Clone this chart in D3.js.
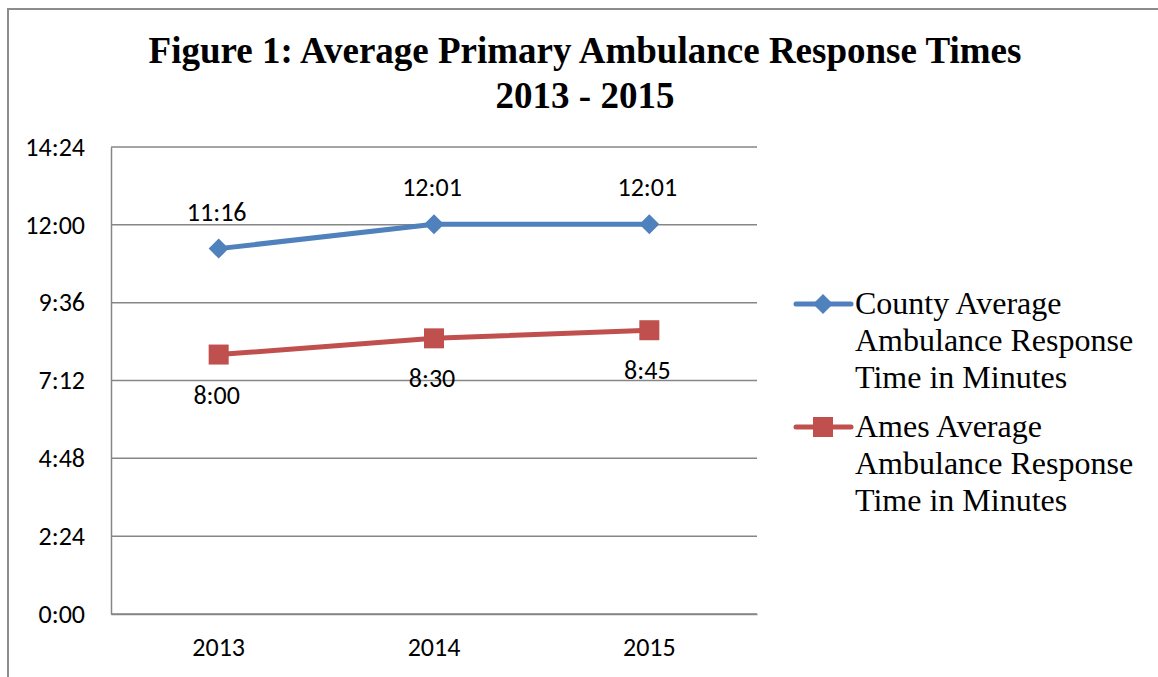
<!DOCTYPE html>
<html>
<head>
<meta charset="utf-8">
<script src="https://cdn.jsdelivr.net/npm/d3@7"></script>
<style>
  html, body { margin: 0; padding: 0; background: #fff; }
  svg { display: block; }
</style>
</head>
<body>
<svg id="chart" width="1158" height="677"></svg>
<script>
// Data: response times as "m:ss" strings, converted to seconds for plotting
const years = ["2013", "2014", "2015"];
const countyTimes = ["11:16", "12:01", "12:01"];
const amesTimes = ["8:00", "8:30", "8:45"];
const yTickLabels = ["0:00", "2:24", "4:48", "7:12", "9:36", "12:00", "14:24"];
const seriesNames = [
  ["County Average", "Ambulance Response", "Time in Minutes"],
  ["Ames Average", "Ambulance Response", "Time in Minutes"]
];

const toSec = s => { const [m, ss] = s.split(":").map(Number); return m * 60 + ss; };

const series = [
  { key: "county", times: countyTimes, color: "#4F81BD", marker: "diamond", labelPos: "above", name: seriesNames[0] },
  { key: "ames", times: amesTimes, color: "#C0504D", marker: "square", labelPos: "below", name: seriesNames[1] }
];

const svg = d3.select("#chart");
const W = 1158, H = 677;

// Outer chart frame (left and top edges)
svg.append("path")
  .attr("d", `M8,${H} L8,9 L${W},9`)
  .attr("fill", "none").attr("stroke", "#8c8c8c").attr("stroke-width", 2);

// Title
const title = svg.append("text")
  .attr("text-anchor", "middle")
  .attr("font-family", "'Liberation Serif', 'Times New Roman', serif")
  .attr("font-weight", "bold").attr("font-size", 37).attr("fill", "#000");
title.append("tspan").attr("x", 585).attr("y", 63).text("Figure 1: Average Primary Ambulance Response Times");
title.append("tspan").attr("x", 585).attr("y", 108).text("2013 - 2015");

// Plot area
const plot = { left: 111, right: 757, top: 147, bottom: 614 };
const x = d3.scaleBand().domain(years).range([plot.left, plot.right]);
const yMax = toSec(yTickLabels[yTickLabels.length - 1]);
const y = d3.scaleLinear().domain([0, yMax]).range([plot.bottom, plot.top]);
const tickVals = yTickLabels.map(toSec);

const labelFont = "Carlito, Calibri, 'Liberation Sans', Arial, sans-serif";
const labelSize = 26;

// Horizontal gridlines
svg.append("g").selectAll("line").data(tickVals).join("line")
  .attr("x1", plot.left).attr("x2", plot.right)
  .attr("y1", d => y(d)).attr("y2", d => y(d))
  .attr("stroke", "#868686").attr("stroke-width", 1.5);

// Y axis
const yAxis = svg.append("g").attr("transform", `translate(${plot.left},0)`)
  .call(d3.axisLeft(y).tickValues(tickVals).tickSize(0).tickPadding(26)
    .tickFormat((d, i) => yTickLabels[i]));
yAxis.select(".domain").attr("stroke", "#868686").attr("stroke-width", 1.5);
yAxis.selectAll("text").attr("font-family", labelFont).attr("font-size", labelSize).attr("fill", "#000");

// X axis
const xAxis = svg.append("g").attr("transform", `translate(0,${plot.bottom})`)
  .call(d3.axisBottom(x).tickSize(0).tickPadding(24));
xAxis.select(".domain").attr("stroke", "#868686").attr("stroke-width", 1.5);
xAxis.selectAll("text").attr("font-family", labelFont).attr("font-size", labelSize).attr("fill", "#000");

const cx = d => x(d) + x.bandwidth() / 2;
const line = d3.line().x(d => cx(d.year)).y(d => y(d.sec));

const drawMarker = (g, type, color, px, py) => {
  if (type === "diamond") {
    const r = 10;
    g.append("path").attr("d", `M${px},${py - r} L${px + r},${py} L${px},${py + r} L${px - r},${py} Z`).attr("fill", color);
  } else {
    const s = 20;
    g.append("rect").attr("x", px - s / 2).attr("y", py - s / 2).attr("width", s).attr("height", s).attr("fill", color);
  }
};

series.forEach(s => {
  const pts = years.map((yr, i) => ({ year: yr, sec: toSec(s.times[i]), label: s.times[i] }));
  const g = svg.append("g");
  g.append("path").datum(pts).attr("d", line)
    .attr("fill", "none").attr("stroke", s.color).attr("stroke-width", 5).attr("stroke-linejoin", "round");
  pts.forEach(p => drawMarker(g, s.marker, s.color, cx(p.year), y(p.sec)));
  g.selectAll("text").data(pts).join("text")
    .attr("x", d => cx(d.year) - 2)
    .attr("y", d => y(d.sec) + (s.labelPos === "above" ? -28 : 49))
    .attr("text-anchor", "middle")
    .attr("font-family", labelFont).attr("font-size", labelSize).attr("fill", "#000")
    .text(d => d.label);
});

// Legend
const legendFont = "'Liberation Serif', 'Times New Roman', serif";
series.forEach((s, i) => {
  const baseY = 314 + i * 123;
  const my = baseY - 10;
  const g = svg.append("g");
  g.append("line").attr("x1", 796).attr("x2", 851).attr("y1", my).attr("y2", my)
    .attr("stroke", s.color).attr("stroke-width", 5).attr("stroke-linecap", "round");
  drawMarker(g, s.marker, s.color, 823, my);
  const t = g.append("text").attr("font-family", legendFont).attr("font-size", 32).attr("fill", "#000");
  s.name.forEach((ln, j) => {
    t.append("tspan").attr("x", 855).attr("y", baseY + j * 37).text(ln);
  });
});
</script>
</body>
</html>
